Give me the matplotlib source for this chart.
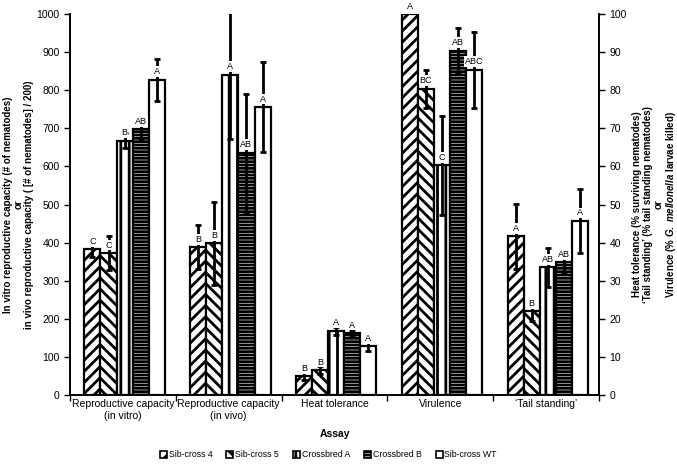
import matplotlib.pyplot as plt
import numpy as np

plt.rcParams['font.family'] = ['Liberation Sans', 'DejaVu Sans']
plt.rcParams['mathtext.fontset'] = 'custom'
plt.rcParams['mathtext.it'] = 'Liberation Sans:italic:bold'
plt.rcParams['mathtext.rm'] = 'Liberation Sans:bold'
plt.rcParams['hatch.linewidth'] = 2.0

# data
assays = ['Reproductive capacity\n(in vitro)', 'Reproductive capacity\n(in vivo)',
          'Heat tolerance', 'Virulence', '\u2018Tail standing\u2019']
lines = ['Sib-cross 4', 'Sib-cross 5', 'Crossbred A', 'Crossbred B', 'Sib-cross WT']

# left axis assays (counts), rows = assay, cols = line
repro_means = [[383, 373, 668, 697, 828],
               [388, 398, 841, 636, 756]]
repro_err = [[20, 45, 20, 25, 55],
             [58, 110, 170, 155, 118]]
# right axis assays (%)
pct_means = [[5.0, 6.6, 16.9, 16.3, 12.8],
             [100, 80.4, 60.3, 90.4, 85.4],
             [41.7, 22.0, 33.5, 34.9, 45.7]]
pct_err = [[1.0, 1.0, 1.0, 0.8, 1.2],
           [0, 5, 13, 6, 10],
           [8.5, 2.5, 5, 3, 8.5]]
letters = [['C', 'C', 'B', 'AB', 'A'],
           ['B', 'B', 'A', 'AB', 'A'],
           ['B', 'B', 'A', 'A', 'A'],
           ['A', 'BC', 'C', 'AB', 'ABC'],
           ['A', 'B', 'AB', 'AB', 'A']]

hatches = ['///', '\\\\\\', '||', '-----', '']

fig = plt.figure(figsize=(6.77, 4.66), dpi=100)
ax = fig.add_axes([0.1034, 0.152, 0.7814, 0.818])
ax2 = ax.twinx()

width = 0.152
shift = 0.016


def draw_group(axis, gi, means, errs, labs):
    for j in range(5):
        x = gi + (j - 2) * width + shift
        axis.bar(x, means[j], width, color='white', edgecolor='black',
                 linewidth=1.6, hatch=hatches[j], zorder=2)
        if errs[j] > 0:
            axis.errorbar(x, means[j], yerr=errs[j], fmt='none', ecolor='black',
                          elinewidth=2, capsize=2.5, capthick=2, zorder=3)
        axis.annotate(labs[j], (x, means[j]), xytext=(0, 2.5), textcoords='offset points',
                      ha='center', va='bottom', fontsize=6.5, zorder=4,
                      bbox=dict(boxstyle='square,pad=0.1', fc='white', ec='none'),
                      annotation_clip=False)


for gi in range(2):
    draw_group(ax, gi, repro_means[gi], repro_err[gi], letters[gi])
for k in range(3):
    draw_group(ax2, k + 2, pct_means[k], pct_err[k], letters[k + 2])

ax.set_xlim(-0.5, 4.5)
ax.set_ylim(0, 1000)
ax2.set_ylim(0, 100)
ax.set_yticks(np.arange(0, 1001, 100))
ax2.set_yticks(np.arange(0, 101, 10))

ax.set_xticks(np.arange(-0.5, 4.6, 1))
ax.set_xticklabels([])
ax.set_xticks(np.arange(5), minor=True)
ax.set_xticklabels(assays, minor=True, fontsize=7.5)
ax.tick_params(axis='x', which='major', length=4, width=1, direction='out')
ax.tick_params(axis='x', which='minor', length=0, pad=3)
ax.tick_params(axis='y', labelsize=7.5, length=4, width=1, direction='out')
ax2.tick_params(axis='y', labelsize=7.5, length=4, width=1, direction='out')

for a in (ax, ax2):
    a.spines['top'].set_visible(False)
    for s in ('left', 'right', 'bottom'):
        a.spines[s].set_linewidth(1.2)

ax.set_xlabel('Assay', fontsize=7.5, fontweight='bold', labelpad=6)
ax.set_ylabel('In vitro reproductive capacity (# of nematodes)\nor\n'
              'in vivo reproductive capacity ( [# of nematodes] / 200)',
              fontsize=7, fontweight='bold', labelpad=2, linespacing=1.05)
ax2.set_ylabel('Heat tolerance (% surviving nematodes)\n'
               '\u2018Tail standing\u2019 (% tail standing nematodes)\nor\n'
               r'Virulence (% $\mathit{G.\ mellonella}$ larvae killed)',
               fontsize=7, fontweight='bold', labelpad=4, linespacing=1.05)

handles = [plt.Rectangle((0, 0), 1, 1, fc='white', ec='black', lw=1.2, hatch=h)
           for h in hatches]
fig.legend(handles, lines, loc='center', bbox_to_anchor=(0.485, 0.024), ncol=5,
           frameon=False, fontsize=6.3, handlelength=0.8, handleheight=0.8,
           handletextpad=0.2, columnspacing=1.6)

fig.savefig('out.png', dpi=100)
